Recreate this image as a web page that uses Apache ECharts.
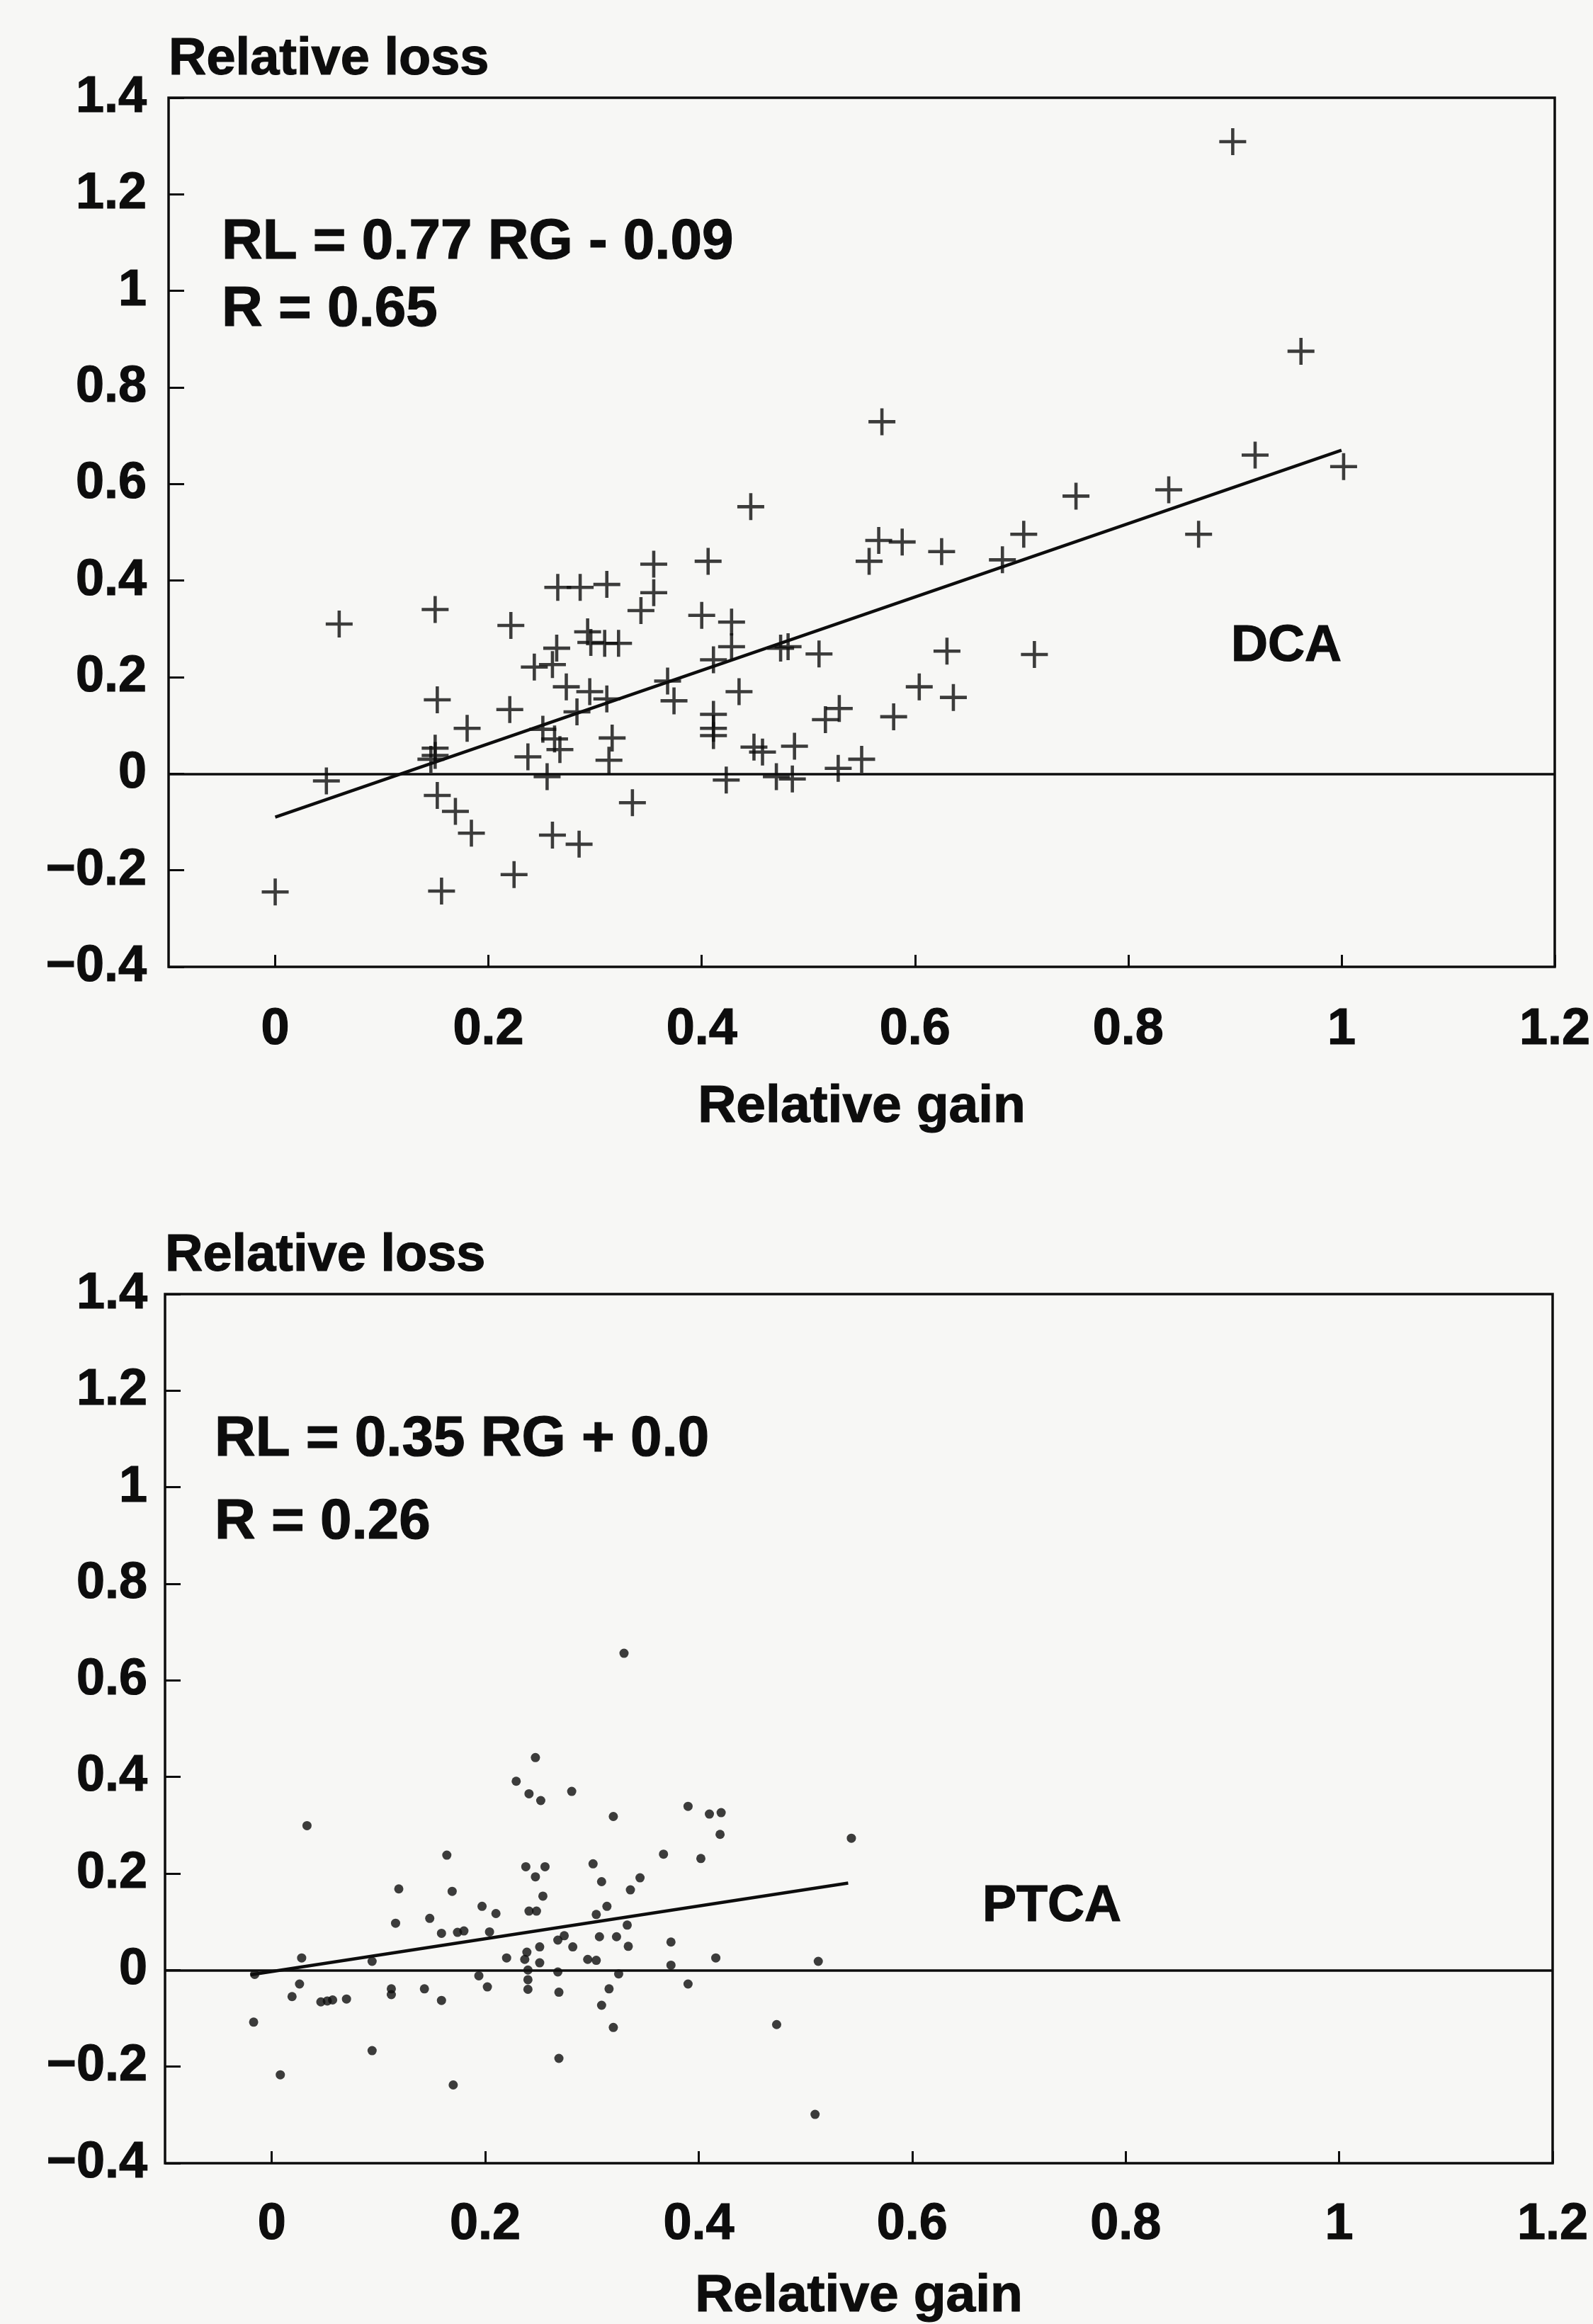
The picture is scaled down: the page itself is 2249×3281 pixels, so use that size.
<!DOCTYPE html>
<html>
<head>
<meta charset="utf-8">
<title>Relative loss vs relative gain</title>
<script src="https://cdn.jsdelivr.net/npm/echarts@6.0.0/dist/echarts.min.js"></script>
<style>
	html, body { margin: 0; padding: 0; background: #f7f7f5; }
	#main { width: 2249px; height: 3281px; }
</style>
</head>
<body>
<div id="main"></div>
<script>
var self = '';

/*DCA: [relative gain, relative loss]*/
var dcaPoints = [
	[0.000, -0.245], [0.048, -0.015], [0.060, 0.310], [0.150, 0.340], [0.152, 0.153],
	[0.150, 0.053], [0.150, 0.038], [0.146, 0.030], [0.152, -0.045], [0.169, -0.078],
	[0.184, -0.123], [0.156, -0.243], [0.180, 0.094], [0.220, 0.133], [0.221, 0.307],
	[0.224, -0.209], [0.237, 0.035], [0.243, 0.221], [0.260, 0.226], [0.264, 0.260],
	[0.251, 0.092], [0.262, 0.072], [0.267, 0.050], [0.255, -0.006], [0.260, -0.127],
	[0.265, 0.386], [0.286, 0.386], [0.311, 0.392], [0.273, 0.180], [0.285, -0.146],
	[0.293, 0.294], [0.296, 0.272], [0.309, 0.270], [0.322, 0.270], [0.295, 0.170],
	[0.311, 0.155], [0.283, 0.128], [0.316, 0.074], [0.313, 0.028], [0.335, -0.060],
	[0.343, 0.338], [0.355, 0.375], [0.355, 0.434], [0.368, 0.192], [0.374, 0.151],
	[0.406, 0.440], [0.400, 0.328], [0.428, 0.314], [0.428, 0.263], [0.411, 0.236],
	[0.435, 0.170], [0.411, 0.123], [0.411, 0.094], [0.411, 0.079], [0.423, -0.013],
	[0.446, 0.553], [0.449, 0.055], [0.457, 0.045], [0.474, 0.260], [0.481, 0.263],
	[0.487, 0.057], [0.470, -0.006], [0.485, -0.011], [0.510, 0.248], [0.516, 0.112],
	[0.529, 0.135], [0.528, 0.011], [0.550, 0.030], [0.557, 0.440], [0.566, 0.483],
	[0.588, 0.480], [0.569, 0.729], [0.580, 0.118], [0.604, 0.180], [0.625, 0.460],
	[0.630, 0.254], [0.636, 0.158], [0.682, 0.443], [0.702, 0.496], [0.712, 0.247],
	[0.751, 0.575], [0.838, 0.588], [0.866, 0.496], [0.898, 1.309], [0.919, 0.660],
	[0.962, 0.875], [1.002, 0.636]
];

/*PTCA: [relative gain, relative loss]*/
var ptcaPoints = [
	[-0.017, -0.108], [-0.016, -0.009], [0.008, -0.217], [0.019, -0.055], [0.026, -0.029],
	[0.028, 0.025], [0.033, 0.299], [0.046, -0.066], [0.052, -0.064], [0.057, -0.062],
	[0.070, -0.060], [0.094, 0.018], [0.094, -0.167], [0.112, -0.039], [0.112, -0.051],
	[0.116, 0.097], [0.119, 0.168], [0.143, -0.039], [0.148, 0.107], [0.159, 0.076],
	[0.159, -0.063], [0.164, 0.238], [0.169, 0.163], [0.170, -0.238], [0.174, 0.078],
	[0.180, 0.081], [0.194, -0.012], [0.197, 0.132], [0.202, -0.035], [0.204, 0.079],
	[0.210, 0.117], [0.220, 0.025], [0.229, 0.391], [0.237, 0.022], [0.238, 0.214],
	[0.239, 0.037], [0.240, 0.000], [0.240, -0.020], [0.240, -0.040], [0.241, 0.122],
	[0.241, 0.365], [0.247, 0.193], [0.247, 0.440], [0.248, 0.122], [0.251, 0.048],
	[0.251, 0.015], [0.252, 0.351], [0.254, 0.153], [0.256, 0.214], [0.268, 0.062],
	[0.268, -0.004], [0.269, -0.046], [0.269, -0.183], [0.274, 0.071], [0.281, 0.370],
	[0.282, 0.048], [0.296, 0.022], [0.301, 0.220], [0.304, 0.115], [0.304, 0.020],
	[0.307, 0.069], [0.309, 0.183], [0.309, -0.073], [0.314, 0.132], [0.316, -0.039],
	[0.320, 0.318], [0.320, -0.119], [0.323, 0.069], [0.325, -0.008], [0.330, 0.656],
	[0.333, 0.093], [0.334, 0.049], [0.336, 0.166], [0.345, 0.191], [0.367, 0.240],
	[0.374, 0.058], [0.374, 0.010], [0.390, 0.339], [0.390, -0.029], [0.402, 0.231],
	[0.410, 0.323], [0.416, 0.025], [0.420, 0.281], [0.421, 0.326], [0.473, -0.113],
	[0.509, -0.299], [0.512, 0.018], [0.543, 0.273]
];

/*regression lines, end points*/
var dcaFit = [[0.0, -0.09], [1.0, 0.67]];
var ptcaFit = [[-0.02, -0.01], [0.54, 0.18]];

/*axis ticks*/
var gainTicks = [0, 0.2, 0.4, 0.6, 0.8, 1, 1.2];
var lossTicks = [-0.4, -0.2, 0, 0.2, 0.4, 0.6, 0.8, 1, 1.2, 1.4];

/*texts*/
var dcaText = ['RL = 0.77 RG - 0.09', 'R = 0.65'];
var ptcaText = ['RL = 0.35 RG + 0.0', 'R = 0.26'];

var INK = '#0d0d0d';
var FONT = '"Liberation Sans", Arial, Helvetica, sans-serif';
var PLUS = 'path://M11,0 L14,0 L14,11 L25,11 L25,14 L14,14 L14,25 L11,25 L11,14 L0,14 L0,11 L11,11 Z';

var viewConfig = {

	initialize: function(){
		self = this;
		var myChart = echarts.init(document.getElementById('main'), null, {renderer: 'canvas'});
		myChart.setOption(self.getOption());
	},

	/*bold text, a little heavier like the print*/
	textStyle: function(size){
		return {
			color: INK, fontSize: size, fontWeight: 'bold', fontFamily: FONT,
			textBorderColor: INK, textBorderWidth: 1.2
		};
	},

	/*x axis*/
	xAxisItem: function(gridIndex, nameGap, labelMargin){
		var labelStyle = self.textStyle(72);
		labelStyle.customValues = gainTicks;
		labelStyle.margin = labelMargin;
		labelStyle.verticalAlign = 'middle';
		var nameStyle = self.textStyle(75);
		nameStyle.verticalAlign = 'middle';
		return {
			gridIndex: gridIndex,
			type: 'value',
			min: -0.1,
			max: 1.2,
			interval: 0.1,
			axisLine: { show: false, onZero: false },
			splitLine: { show: false },
			axisTick: {
				show: true, inside: true, length: 17,
				customValues: gainTicks,
				lineStyle: { color: INK, width: 3 }
			},
			axisLabel: labelStyle,
			name: 'Relative gain',
			nameLocation: 'middle',
			nameGap: nameGap,
			nameTextStyle: nameStyle
		};
	},

	/*y axis*/
	yAxisItem: function(gridIndex, labelMargin){
		var labelStyle = self.textStyle(72);
		labelStyle.customValues = lossTicks;
		labelStyle.margin = labelMargin;
		labelStyle.formatter = function(v){
			return String(v).replace('-', '\u2212');
		};
		var nameStyle = self.textStyle(74);
		nameStyle.align = 'left';
		nameStyle.verticalAlign = 'middle';
		return {
			gridIndex: gridIndex,
			type: 'value',
			min: -0.4,
			max: 1.4,
			interval: 0.2,
			axisLine: { show: false, onZero: false },
			splitLine: { show: false },
			axisTick: {
				show: true, inside: true, length: 22,
				customValues: lossTicks,
				lineStyle: { color: INK, width: 3 }
			},
			axisLabel: labelStyle,
			name: 'Relative loss',
			nameLocation: 'end',
			nameGap: 53,
			nameTextStyle: nameStyle
		};
	},

	/*zero line*/
	zeroLine: function(){
		return {
			silent: true,
			symbol: ['none', 'none'],
			label: { show: false },
			lineStyle: { color: INK, width: 3.5, type: 'solid' },
			data: [{ yAxis: 0 }]
		};
	},

	/*text in the plot*/
	textItem: function(text, x, y, size, align){
		return {
			type: 'text',
			x: x,
			y: y,
			silent: true,
			style: {
				text: text,
				fill: INK,
				stroke: INK,
				lineWidth: 1.2,
				font: 'bold ' + size + 'px ' + FONT,
				align: align, textAlign: align,
				verticalAlign: 'middle', textVerticalAlign: 'middle'
			}
		};
	},

	getOption: function(){
		var option = {
			backgroundColor: '#f7f7f5',
			animation: false,
			grid: [
				{ left: 238, top: 138, width: 1957, height: 1227, show: true, borderColor: INK, borderWidth: 3.5, backgroundColor: 'transparent' },
				{ left: 233, top: 1827, width: 1959, height: 1228, show: true, borderColor: INK, borderWidth: 3.5, backgroundColor: 'transparent' }
			],
			xAxis: [ self.xAxisItem(0, 198, 89), self.xAxisItem(1, 188, 87) ],
			yAxis: [ self.yAxisItem(0, 31), self.yAxisItem(1, 25) ],
			series: [
				{
					name: 'DCA',
					type: 'scatter',
					xAxisIndex: 0, yAxisIndex: 0,
					symbol: PLUS,
					symbolSize: 38,
					itemStyle: { color: INK },
					silent: true,
					data: dcaPoints
				},
				{
					name: 'DCA fit',
					type: 'line',
					xAxisIndex: 0, yAxisIndex: 0,
					symbol: 'none',
					lineStyle: { color: INK, width: 4.5 },
					silent: true,
					data: dcaFit,
					markLine: self.zeroLine()
				},
				{
					name: 'PTCA',
					type: 'scatter',
					xAxisIndex: 1, yAxisIndex: 1,
					symbol: 'circle',
					symbolSize: 13,
					itemStyle: { color: INK },
					silent: true,
					data: ptcaPoints
				},
				{
					name: 'PTCA fit',
					type: 'line',
					xAxisIndex: 1, yAxisIndex: 1,
					symbol: 'none',
					lineStyle: { color: INK, width: 4.5 },
					silent: true,
					data: ptcaFit,
					markLine: self.zeroLine()
				}
			],
			graphic: [
				self.textItem(dcaText[0], 313, 343, 80, 'left'),
				self.textItem(dcaText[1], 313, 438, 80, 'left'),
				self.textItem('DCA', 1816, 913, 72, 'center'),
				self.textItem(ptcaText[0], 303, 2033, 80, 'left'),
				self.textItem(ptcaText[1], 303, 2150, 80, 'left'),
				self.textItem('PTCA', 1485, 2692, 72, 'center')
			]
		};
		return option;
	}

};

viewConfig.initialize();
</script>
</body>
</html>
